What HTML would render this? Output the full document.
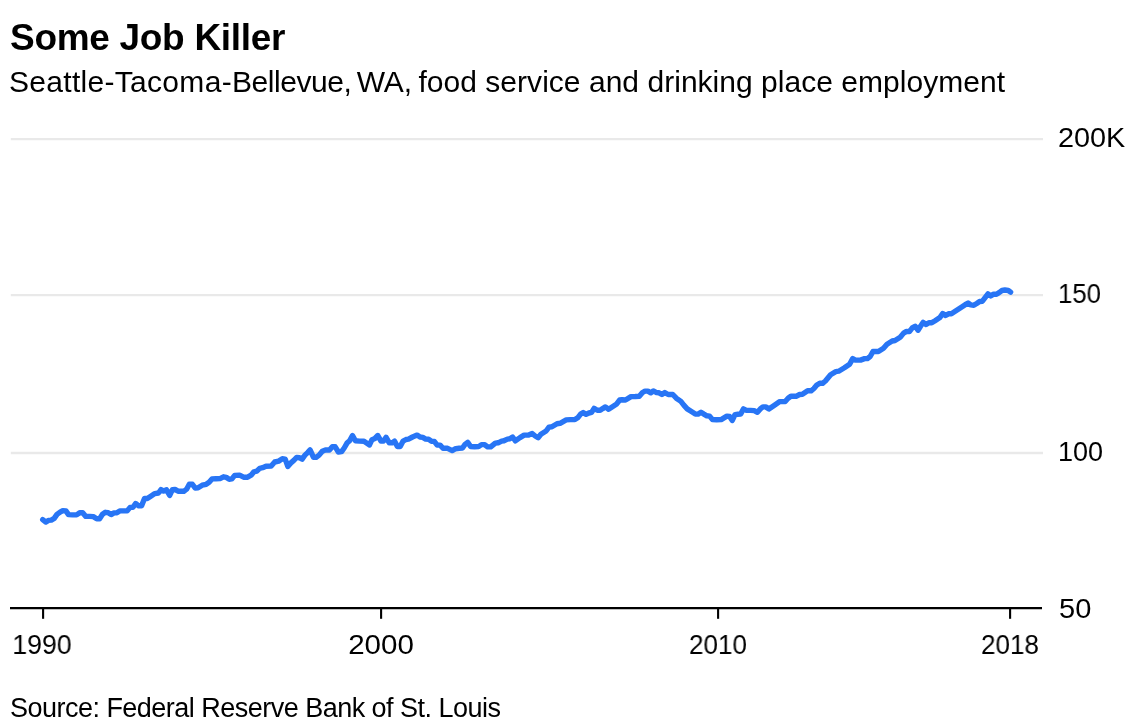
<!DOCTYPE html>
<html><head><meta charset="utf-8"><title>Some Job Killer</title>
<style>
html,body{margin:0;padding:0;background:#fff;}
body{width:1130px;height:724px;position:relative;overflow:hidden;font-family:"Liberation Sans",sans-serif;color:#000;}
.t{position:absolute;white-space:nowrap;line-height:1;will-change:transform;}
#title{left:10px;top:19px;font-size:37px;font-weight:bold;letter-spacing:-0.3px;}
#sub{left:9px;top:67px;font-size:30px;letter-spacing:-0.06px;}
.yl{left:1058.7px;font-size:27px;transform-origin:0 50%;}
.xl{font-size:27px;transform:translateX(-50%);top:631.5px;}
#src{left:9.5px;top:694.5px;font-size:27px;letter-spacing:-0.52px;}
svg{position:absolute;left:0;top:0;}
</style></head><body>
<svg width="1130" height="724" viewBox="0 0 1130 724">
<g stroke="#e9e9e9" stroke-width="2.3">
<line x1="10.8" x2="1043" y1="139.1" y2="139.1"/>
<line x1="10.8" x2="1043" y1="295.2" y2="295.2"/>
<line x1="10.8" x2="1043" y1="453.0" y2="453.0"/>
</g>
<g stroke="#000" stroke-width="2.1">
<line x1="10" x2="1042" y1="608.15" y2="608.15"/>
<line x1="43.1" x2="43.1" y1="608" y2="618.8"/>
<line x1="381.1" x2="381.1" y1="608" y2="618.8"/>
<line x1="718.1" x2="718.1" y1="608" y2="618.8"/>
<line x1="1010.1" x2="1010.1" y1="608" y2="618.8"/>
</g>
<path d="M42.7,519.6 L45.9,522.1 L48.4,520.4 L51.3,520.1 L54.2,518.4 L57.0,514.4 L60.1,512.1 L62.8,510.6 L65.9,510.9 L68.5,514.6 L72.6,514.9 L76.6,514.9 L79.7,512.7 L82.7,512.7 L85.8,516.4 L89.8,516.4 L93.3,516.6 L96.7,518.7 L99.6,518.7 L102.5,514.3 L105.4,512.3 L108.2,512.7 L111.1,514.6 L114.0,512.9 L116.9,512.7 L119.7,510.9 L123.8,510.9 L127.2,510.9 L130.1,507.4 L133.0,507.2 L135.6,503.5 L138.7,505.8 L141.6,505.8 L144.5,498.5 L147.3,498.5 L150.8,496.2 L154.8,493.6 L158.5,493.0 L161.0,489.6 L163.6,491.0 L166.5,489.8 L169.7,495.3 L172.3,489.8 L175.1,489.5 L178.6,491.3 L183.8,491.3 L186.6,489.2 L189.3,484.3 L192.4,484.3 L195.3,488.1 L198.1,487.8 L202.2,485.2 L206.2,484.3 L209.1,482.3 L212.0,478.9 L216.0,478.7 L220.0,478.6 L223.5,476.8 L226.3,477.4 L229.2,479.2 L231.9,478.9 L234.7,475.4 L239.6,475.2 L243.6,477.2 L247.6,477.2 L251.1,475.2 L253.9,471.8 L256.8,471.2 L259.7,468.3 L262.6,467.7 L266.0,466.2 L271.2,466.0 L274.7,462.0 L278.7,461.1 L282.3,458.8 L285.2,459.1 L287.8,466.4 L290.9,462.9 L293.8,460.4 L296.7,457.4 L299.3,457.7 L302.1,459.2 L304.7,455.4 L307.6,452.6 L310.1,449.9 L313.4,457.2 L316.2,457.2 L319.1,455.1 L322.3,451.2 L325.4,450.0 L329.5,450.0 L332.3,446.8 L335.2,446.8 L338.4,452.0 L341.6,451.6 L344.2,448.0 L347.0,443.1 L349.6,440.8 L352.5,435.5 L355.4,440.8 L359.4,441.1 L364.0,441.3 L369.5,444.9 L372.0,439.7 L374.9,438.5 L377.8,435.5 L381.0,441.1 L383.5,441.1 L386.1,437.3 L389.3,442.8 L392.2,442.8 L394.5,441.1 L397.4,446.6 L400.2,446.6 L403.1,441.1 L406.0,439.5 L408.5,439.1 L412.5,437.0 L417.1,435.1 L420.0,437.0 L422.8,437.4 L425.7,439.1 L428.6,439.3 L431.5,441.2 L434.3,441.4 L437.2,445.1 L440.1,445.1 L443.0,448.3 L447.6,448.3 L452.2,450.6 L455.6,448.7 L459.1,448.3 L462.5,448.1 L465.1,444.3 L467.7,442.3 L470.6,446.6 L474.6,446.8 L478.6,446.6 L481.5,444.6 L484.4,444.6 L487.8,446.9 L490.7,446.9 L495.3,443.1 L498.2,442.8 L501.6,441.1 L503.9,440.8 L507.4,439.1 L509.9,438.8 L512.6,437.0 L515.4,440.8 L520.0,437.6 L524.1,435.1 L528.7,435.1 L532.2,433.6 L535.2,436.0 L538.1,437.7 L540.9,434.3 L546.1,431.0 L549.0,427.1 L551.9,426.8 L557.0,423.7 L560.1,423.3 L566.2,419.9 L570.3,419.6 L574.9,419.6 L577.7,417.8 L580.6,414.1 L583.2,412.6 L586.1,414.3 L588.9,413.0 L591.6,412.4 L594.1,408.4 L597.3,410.3 L600.2,410.3 L602.7,408.6 L605.4,406.9 L608.6,409.2 L611.7,407.2 L616.3,404.3 L619.7,400.0 L622.0,399.7 L625.5,400.0 L631.0,396.6 L635.3,396.5 L639.3,396.3 L642.5,392.5 L645.0,391.1 L647.9,391.1 L650.8,392.8 L653.3,390.9 L656.6,392.6 L659.0,392.8 L661.9,394.5 L664.8,392.6 L668.2,394.5 L672.8,394.5 L676.3,398.2 L680.9,401.4 L683.8,405.1 L687.2,408.9 L691.8,411.8 L695.3,414.1 L698.1,414.1 L701.0,412.3 L703.9,414.1 L706.8,415.8 L709.6,416.1 L712.5,419.6 L716.6,419.8 L721.2,419.6 L724.0,417.9 L726.9,416.1 L729.6,416.4 L732.3,420.4 L735.0,414.6 L737.8,414.3 L740.7,414.1 L743.4,408.9 L746.5,410.4 L750.5,410.4 L754.2,410.6 L757.4,412.3 L760.3,408.9 L762.9,406.9 L765.7,406.9 L768.9,408.9 L774.1,405.4 L779.8,401.6 L785.2,401.5 L788.1,398.3 L790.9,396.3 L796.1,396.3 L799.6,394.5 L802.4,394.3 L807.6,390.8 L811.1,390.8 L813.9,388.5 L816.8,385.0 L819.7,383.3 L822.6,383.3 L825.4,381.0 L830.6,374.7 L835.8,371.6 L838.7,371.2 L844.4,367.8 L849.6,364.3 L852.7,358.6 L855.4,360.1 L860.5,360.1 L864.6,358.6 L867.4,358.6 L870.3,356.3 L873.0,351.5 L878.4,351.5 L883.5,348.2 L887.0,344.2 L892.2,341.0 L895.0,340.5 L900.2,337.2 L903.6,333.1 L906.5,331.4 L909.4,331.6 L912.3,327.9 L915.1,326.2 L918.0,330.2 L920.5,326.2 L923.2,322.4 L926.1,324.5 L928.9,322.7 L931.8,322.7 L934.7,321.0 L939.9,317.6 L942.7,313.5 L945.6,315.5 L948.5,313.8 L951.4,313.8 L954.8,311.6 L960.6,307.8 L965.2,304.7 L968.1,303.0 L970.9,304.9 L973.8,305.3 L976.7,303.5 L979.6,301.5 L982.4,301.2 L985.3,297.4 L988.0,293.8 L990.7,295.9 L993.6,294.2 L996.5,294.2 L999.1,292.6 L1002.0,290.5 L1004.9,290.0 L1008.3,290.5 L1010.6,292.2" fill="none" stroke="#2875f5" stroke-width="5.4" stroke-linejoin="round" stroke-linecap="round"/>
</svg>
<div class="t" id="title">Some Job Killer</div>
<div class="t" id="sub"><span style="letter-spacing:0.3px">Seattle-Tacoma-</span><span style="letter-spacing:-0.45px">Bellevue</span><span style="letter-spacing:-1.7px">, </span>WA<span style="letter-spacing:-1px">, </span><span style="letter-spacing:0.03px">food service and drinking place employment</span></div>
<div class="t yl" style="top:125.3px;left:1058.0px;transform:scaleX(1.067)">200K</div>
<div class="t yl" style="top:281.3px;left:1057.7px;transform:scaleX(0.955)">150</div>
<div class="t yl" style="top:439.4px;left:1057.6px;transform:scaleX(1.0)">100</div>
<div class="t yl" style="top:595.5px;left:1058.5px;transform:scaleX(1.075)">50</div>
<div class="t xl" style="left:42.0px;transform:translateX(-50%) scaleX(0.988)">1990</div>
<div class="t xl" style="left:380.7px;transform:translateX(-50%) scaleX(1.093)">2000</div>
<div class="t xl" style="left:718.2px;transform:translateX(-50%) scaleX(0.966)">2010</div>
<div class="t xl" style="left:1009.9px;transform:translateX(-50%) scaleX(0.965)">2018</div>
<div class="t" id="src">Source: Federal Reserve Bank of St. Louis</div>
</body></html>
